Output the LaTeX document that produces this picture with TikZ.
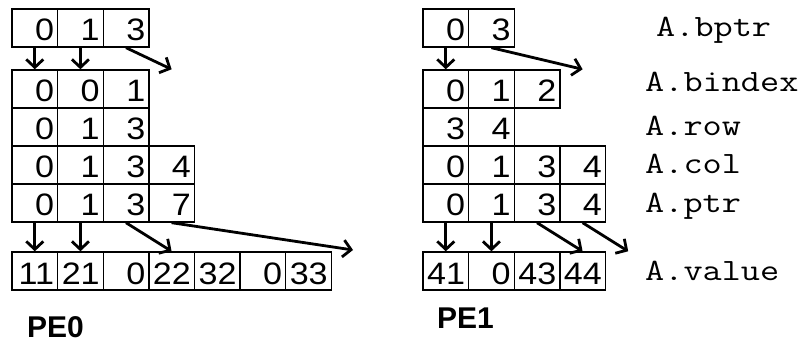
\documentclass[tikz,border=0pt]{standalone}
\usepackage{fontspec}
\setmainfont{Liberation Sans}
\newfontfamily\numfont[FakeStretch=1.1]{Liberation Sans}
\newfontfamily\monofont{Latin Modern Mono}
\usetikzlibrary{arrows.meta,calc}
\newcommand\cellrow[4]{\foreach \v [count=\i] in {#4} {\node[cell] (#1-\i) at ({#2+(\i-0.5)*45.6},{#3+19}) {\v};}}
\newcommand\wide[1]{\scalebox{1.2}[1]{#1}}
\begin{document}
\begin{tikzpicture}[x=1pt,y=-1pt,
  cell/.style={draw, line width=1.4pt, rectangle, inner xsep=3.5pt, inner ysep=0pt, text width=38.6pt, align=right, minimum height=38pt, text height=26pt, text depth=0pt, font=\numfont\fontsize{31}{31}\selectfont},
  arr/.style={line width=2.8pt, -{Straight Barb[length=8pt,width=17pt]}},
  lab/.style={anchor=base west, inner sep=0pt, font=\monofont\fontsize{31}{31}\selectfont},
  pe/.style={anchor=base west, inner sep=0pt, font=\bfseries\fontsize{30}{30}\selectfont}]
\useasboundingbox (0,0) rectangle (804,342);
% PE0
\cellrow{a0b}{12}{9}{0,1,3}
\cellrow{a0i}{12}{70}{0,0,1}
\cellrow{a0r}{12}{108}{0,1,3}
\cellrow{a0c}{12}{146}{0,1,3,4}
\cellrow{a0p}{12}{184}{0,1,3,7}
\cellrow{a0v}{12}{252}{11,21,0,22,32,0,33}
% PE1
\cellrow{a1b}{423}{9}{0,3}
\cellrow{a1i}{423}{70}{0,1,2}
\cellrow{a1r}{423}{108}{3,4}
\cellrow{a1c}{423}{146}{0,1,3,4}
\cellrow{a1p}{423}{184}{0,1,3,4}
\cellrow{a1v}{423}{252}{41,0,43,44}
% PE0 arrows
\draw[arr] (a0b-1.south) -- (a0i-1.north);
\draw[arr] (a0b-2.south) -- (a0i-2.north);
\coordinate (a0e1) at (a0c-4.north |- a0i-1.north);
\draw[arr] (a0b-3.south) -- (a0e1);
\draw[arr] (a0p-1.south) -- (a0v-1.north);
\draw[arr] (a0p-2.south) -- (a0v-2.north);
\draw[arr] (a0p-3.south) -- (a0v-4.north);
\coordinate (a0e2) at (353,250);
\draw[arr] (a0p-4.south) -- (a0e2);
% PE1 arrows
\draw[arr] (a1b-1.south) -- (a1i-1.north);
\coordinate (a1e1) at (a1c-4.north |- a1i-1.north);
\draw[arr] (a1b-2.south) -- (a1e1);
\draw[arr] (a1p-1.south) -- (a1v-1.north);
\draw[arr] (a1p-2.south) -- (a1v-2.north);
\draw[arr] (a1p-3.south) -- (a1v-4.north);
\coordinate (a1e2) at ($(a1v-4.north)+(45.6,0)$);
\draw[arr] (a1p-4.south) -- (a1e2);
% labels
\node[lab] (lb) at (656,37) {\wide{A.bptr}};
\node[lab] (li) at (645,92) {\wide{A.bindex}};
\node[lab] (lr) at (645,136) {\wide{A.row}};
\node[lab] (lc) at (645,174) {\wide{A.col}};
\node[lab] (lp) at (645,212) {\wide{A.ptr}};
\node[lab] (lv) at (645,280) {\wide{A.value}};
\node[pe] (pe0) at (27,337) {PE0};
\node[pe] (pe1) at (437,328) {PE1};
\end{tikzpicture}
\end{document}
